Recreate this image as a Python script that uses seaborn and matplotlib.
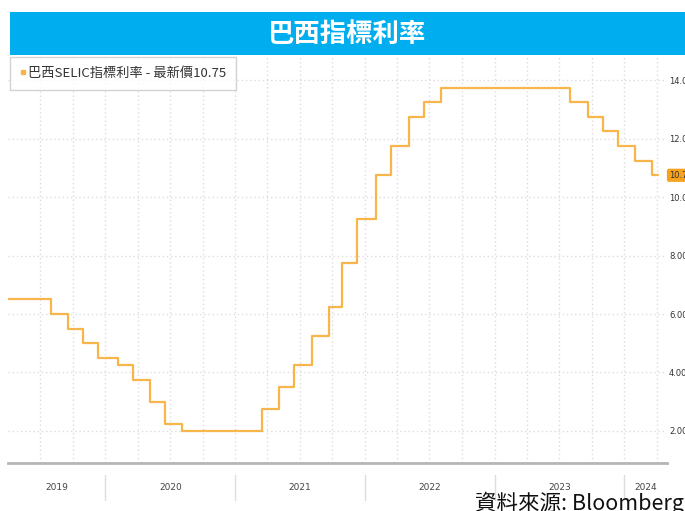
import matplotlib
matplotlib.use("Agg")
import matplotlib.pyplot as plt
import matplotlib.dates as mdates
import matplotlib.transforms as mtransforms
from matplotlib.lines import Line2D
from matplotlib.patches import Rectangle
import seaborn as sns
import pandas as pd

# ---------------- data ----------------
change_dates = [
    "2019-04-02", "2019-07-31", "2019-09-18", "2019-10-30", "2019-12-11",
    "2020-02-05", "2020-03-18", "2020-05-06", "2020-06-17", "2020-08-05",
    "2021-03-17", "2021-05-05", "2021-06-16", "2021-08-04", "2021-09-22",
    "2021-10-27", "2021-12-08", "2022-02-02", "2022-03-16", "2022-05-04",
    "2022-06-15", "2022-08-03", "2023-08-02", "2023-09-20", "2023-11-01",
    "2023-12-13", "2024-01-31", "2024-03-20", "2024-04-05",
]
selic_rates = [
    6.50, 6.00, 5.50, 5.00, 4.50,
    4.25, 3.75, 3.00, 2.25, 2.00,
    2.75, 3.50, 4.25, 5.25, 6.25,
    7.75, 9.25, 10.75, 11.75, 12.75,
    13.25, 13.75, 13.25, 12.75, 12.25,
    11.75, 11.25, 10.75, 10.75,
]
year_labels = ["2019", "2020", "2021", "2022", "2023", "2024"]
y_ticks = [2, 4, 6, 8, 10, 12, 14]
y_tick_labels = ["2.00", "4.00", "6.00", "8.00", "10.00", "12.00", "14.00"]
title_text = "巴西指標利率"
legend_text = "巴西SELIC指標利率 - 最新價10.75"
latest_label = "10.75"
source_text = "資料來源: Bloomberg"

x_start = pd.Timestamp("2019-04-02")
x_end = pd.Timestamp("2024-04-30")

# ---------------- style ----------------
sns.set_theme(style="white")
CJK = ["Noto Sans CJK TC", "DejaVu Sans"]
plt.rcParams["font.family"] = CJK

LINE_C = "#F7B54A"
BADGE_C = "#F5A21E"
BLUE = "#00AEEF"
GRID_C = "#dcdcdc"
SMALL_FONT = ["Liberation Sans Narrow", "DejaVu Sans"]

W, H = 685, 511
fig = plt.figure(figsize=(W / 100, H / 100), dpi=100)
fig.patch.set_facecolor("white")

# title bar
fig.patches.append(Rectangle((10 / W, 1 - 55 / H), 1 - 10 / W, 43 / H,
                             transform=fig.transFigure, facecolor=BLUE,
                             edgecolor="none", zorder=0))
fig.text((10 + W) / 2 / W, 1 - 34 / H, title_text, color="white",
         fontsize=19, fontweight="bold", ha="center", va="center")

ax_l, ax_r, ax_t, ax_b = 8, 667, 57, 463
ax = fig.add_axes([ax_l / W, 1 - ax_b / H, (ax_r - ax_l) / W, (ax_b - ax_t) / H])
ax.set_facecolor("white")

df = pd.DataFrame({"date": pd.to_datetime(change_dates), "rate": selic_rates})
sns.lineplot(data=df, x="date", y="rate", ax=ax, drawstyle="steps-post",
             color=LINE_C, linewidth=1.6, zorder=3)

ax.set_xlim(x_start, x_end)
ax.set_ylim(0.9, 14.8)
ax.set_xlabel("")
ax.set_ylabel("")

# y axis on right
ax.yaxis.tick_right()
ax.set_yticks(y_ticks)
ax.set_yticklabels(y_tick_labels)
ax.tick_params(axis="y", length=0, pad=1.5, labelsize=6, labelcolor="#333333")
for lab in ax.get_yticklabels():
    lab.set_fontfamily(SMALL_FONT)

# x axis: quarterly grid, monthly ticks
ax.xaxis.set_major_locator(mdates.MonthLocator(bymonth=[1, 4, 7, 10]))
ax.xaxis.set_minor_locator(mdates.MonthLocator())
ax.tick_params(axis="x", which="major", length=3, width=0.8, color="#9a9a9a",
               direction="inout", labelbottom=False)
ax.tick_params(axis="x", which="minor", length=3, width=0.8, color="#9a9a9a",
               direction="inout")

ax.grid(True, axis="both", which="major", linestyle=(0, (1, 2)),
        color=GRID_C, linewidth=1.0, zorder=0)

for s in ["top", "left", "right"]:
    ax.spines[s].set_visible(False)
ax.spines["bottom"].set_color("#b5b5b5")
ax.spines["bottom"].set_linewidth(2)

# year labels and separators
trans = mtransforms.blended_transform_factory(ax.transData, ax.transAxes)
years = [int(y) for y in year_labels]
for i, y in enumerate(years):
    lo = max(pd.Timestamp(f"{y}-01-01"), x_start)
    hi = min(pd.Timestamp(f"{y + 1}-01-01"), x_end)
    mid = lo + (hi - lo) / 2
    ax.text(mdates.date2num(mid), -0.06, year_labels[i], transform=trans,
            ha="center", va="center", fontsize=6.5, color="#444444",
            family=SMALL_FONT)
    if y > years[0]:
        xb = mdates.date2num(pd.Timestamp(f"{y}-01-01"))
        ax.add_line(Line2D([xb, xb], [-0.03, -0.09], transform=trans,
                           color="#dddddd", linewidth=1, clip_on=False))

# legend
handle = Line2D([], [], marker="s", color=LINE_C, linestyle="", markersize=3.5)
leg = ax.legend([handle], [legend_text], loc="upper left",
                bbox_to_anchor=(2 / (ax_r - ax_l), 1.0), frameon=True,
                fancybox=False, fontsize=9.5, handlelength=0.4,
                handletextpad=0.2, borderpad=0.75, borderaxespad=0)
leg.get_frame().set_edgecolor("#c8c8c8")
leg.get_frame().set_linewidth(1)
for t in leg.get_texts():
    t.set_color("#333333")

# latest value badge
btrans = mtransforms.blended_transform_factory(ax.transAxes, ax.transData)
ax.text(1.003, selic_rates[-1], latest_label, transform=btrans, ha="left",
        va="center", fontsize=6, color="#333333", family=SMALL_FONT,
        bbox=dict(boxstyle="round,pad=0.25", fc=BADGE_C, ec="none"),
        clip_on=False)

# source
fig.text(1 - 1 / W, 1 - 503 / H, source_text, ha="right", va="center",
         fontsize=15.5, color="#111111")

fig.savefig("out.png", dpi=100)
